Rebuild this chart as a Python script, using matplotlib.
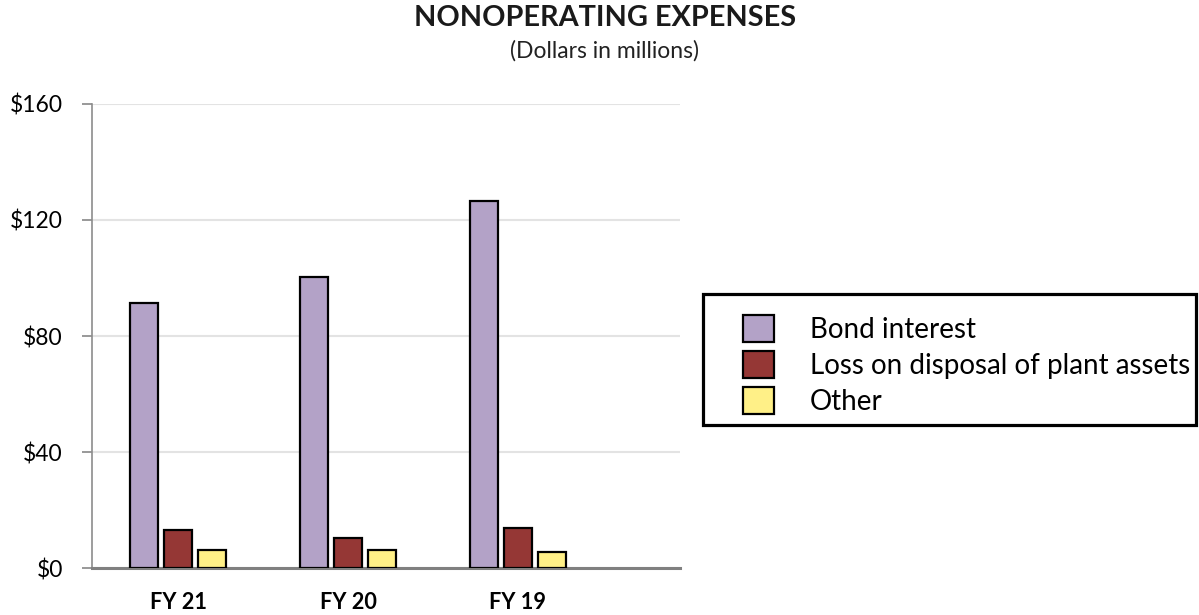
import numpy as np
import matplotlib.pyplot as plt
from matplotlib.patches import Rectangle

plt.rcParams["font.family"] = ["Lato", "DejaVu Sans"]

# Data (dollars in millions)
years = ["FY 21", "FY 20", "FY 19"]
bond_interest = [91.5, 100.5, 126.7]
loss_on_disposal = [13.0, 10.2, 13.7]
other = [6.1, 6.1, 5.4]

series = [
    ("Bond interest", bond_interest, "#b3a2c7"),
    ("Loss on disposal of plant assets", loss_on_disposal, "#953735"),
    ("Other", other, "#fff087"),
]

W, H = 1199, 615
fig = plt.figure(figsize=(W / 100, H / 100), dpi=100)
ax = fig.add_axes([92 / W, 1 - 568 / H, (680 - 92) / W, (568 - 104) / H])

x = np.arange(len(years))
width = 0.165
step = 0.2
handles = []
for i, (name, vals, color) in enumerate(series):
    b = ax.bar(x + (i - 1) * step, vals, width, color=color, edgecolor="black",
               linewidth=1.6, label=name, zorder=3)
    handles.append(b)

ax.set_xlim(-0.506, 2.953)
ax.set_ylim(0, 160)
ax.set_yticks([0, 40, 80, 120, 160])
ax.set_yticklabels(["$0", "$40", "$80", "$120", "$160"], fontsize=16.5)
ax.set_xticks(x)
ax.set_xticklabels(years, fontsize=15.7, fontweight="bold")
ax.tick_params(axis="x", length=0, pad=17.5)
ax.tick_params(axis="y", length=7, width=1.2, color="#888888", pad=14)

ax.grid(axis="y", color="#e3e3e3", linewidth=1.5, zorder=0)
for s in ["top", "right"]:
    ax.spines[s].set_visible(False)
ax.spines["left"].set_color("#8c8c8c")
ax.spines["left"].set_linewidth(1.2)
ax.spines["bottom"].set_color("#808080")
ax.spines["bottom"].set_linewidth(2.2)

fig.text(605 / W, 1 - 18 / H, "NONOPERATING EXPENSES", ha="center", va="center",
         fontsize=20.8, fontweight="bold", color="#1a1a1a")
fig.text(605 / W, 1 - 51 / H, "(Dollars in millions)", ha="center", va="center",
         fontsize=16.5, color="#222222")

# legend box drawn by hand so the padding can differ on each side
fig.patches.append(Rectangle((703 / W, 1 - 425 / H), (1196 - 703) / W, (425 - 294) / H,
                             transform=fig.transFigure, fill=False,
                             edgecolor="black", linewidth=2.3))
leg = fig.legend(handles=handles, loc="upper left",
                 bbox_to_anchor=(743 / W, 1 - 315 / H), fontsize=20,
                 frameon=False, handlelength=1.1, handleheight=1.1,
                 handletextpad=1.3, borderpad=0, labelspacing=0.3,
                 borderaxespad=0)

fig.savefig("out.png", dpi=100)
